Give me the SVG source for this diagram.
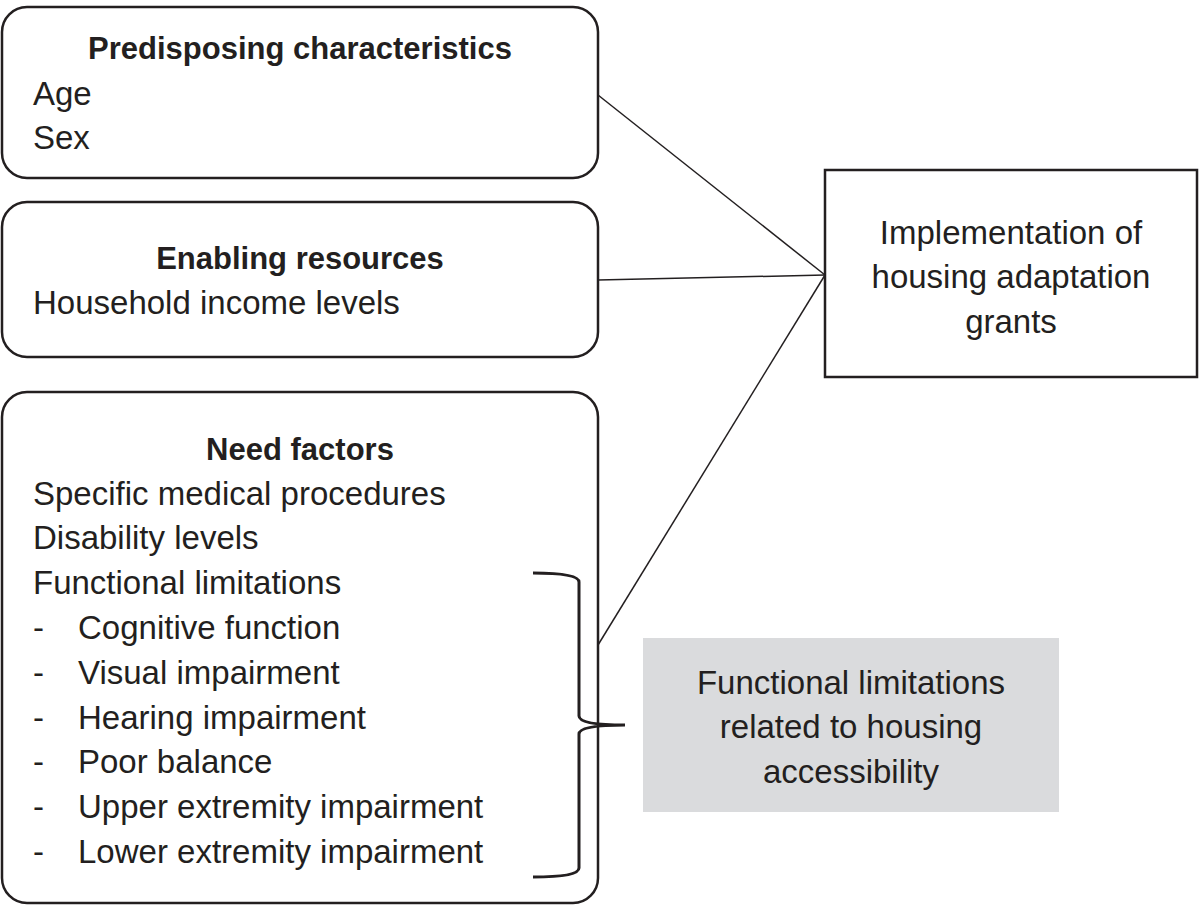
<svg xmlns="http://www.w3.org/2000/svg" width="1200" height="906" viewBox="0 0 1200 906">
<style>
.b{fill:#fff;stroke:#231f20;stroke-width:2.5}
text{font-family:"Liberation Sans",Arial,sans-serif;font-size:33px;fill:#231f20}
.h{font-weight:bold;text-anchor:middle;font-size:31px}
.c{text-anchor:middle}
.l{fill:none;stroke:#231f20;stroke-width:1.5}
</style>
<rect width="1200" height="906" fill="#fff"/>
<g id="predisposing">
<rect class="b" x="2" y="7" width="596" height="171" rx="25"/>
<text class="h" x="300" y="59">Predisposing characteristics</text>
<text x="33" y="105">Age</text>
<text x="33" y="149">Sex</text>
</g>
<g id="enabling">
<rect class="b" x="2" y="202" width="596" height="155" rx="25"/>
<text class="h" x="300" y="269">Enabling resources</text>
<text x="33" y="314">Household income levels</text>
</g>
<g id="need">
<rect class="b" x="2" y="392" width="596" height="511" rx="25"/>
<text class="h" x="300" y="460">Need factors</text>
<text x="33" y="505">Specific medical procedures</text>
<text x="33" y="549">Disability levels</text>
<text x="33" y="594">Functional limitations</text>
<text x="33" y="639">-</text><text x="78" y="639">Cognitive function</text>
<text x="33" y="684">-</text><text x="78" y="684">Visual impairment</text>
<text x="33" y="729">-</text><text x="78" y="729">Hearing impairment</text>
<text x="33" y="773">-</text><text x="78" y="773">Poor balance</text>
<text x="33" y="818">-</text><text x="78" y="818">Upper extremity impairment</text>
<text x="33" y="863">-</text><text x="78" y="863">Lower extremity impairment</text>
</g>
<g id="implementation">
<rect x="825" y="170" width="372" height="207" fill="#fff" stroke="#231f20" stroke-width="2.5"/>
<text class="c" x="1011" y="244">Implementation of</text>
<text class="c" x="1011" y="288">housing adaptation</text>
<text class="c" x="1011" y="333">grants</text>
</g>
<g id="functional">
<rect x="643" y="638" width="416" height="174" fill="#dadbdd"/>
<text class="c" x="851" y="694">Functional limitations</text>
<text class="c" x="851" y="738">related to housing</text>
<text class="c" x="851" y="783">accessibility</text>
</g>
<g id="connectors">
<line class="l" x1="598" y1="95" x2="825" y2="275"/>
<line class="l" x1="598" y1="280" x2="825" y2="275"/>
<line class="l" x1="598" y1="645" x2="825" y2="275"/>
<path d="M533 573 Q579 573 579 582 V716 Q579 725 625 725 Q579 725 579 734 V868 Q579 877 533 877" fill="none" stroke="#231f20" stroke-width="3"/>
</g>
</svg>
